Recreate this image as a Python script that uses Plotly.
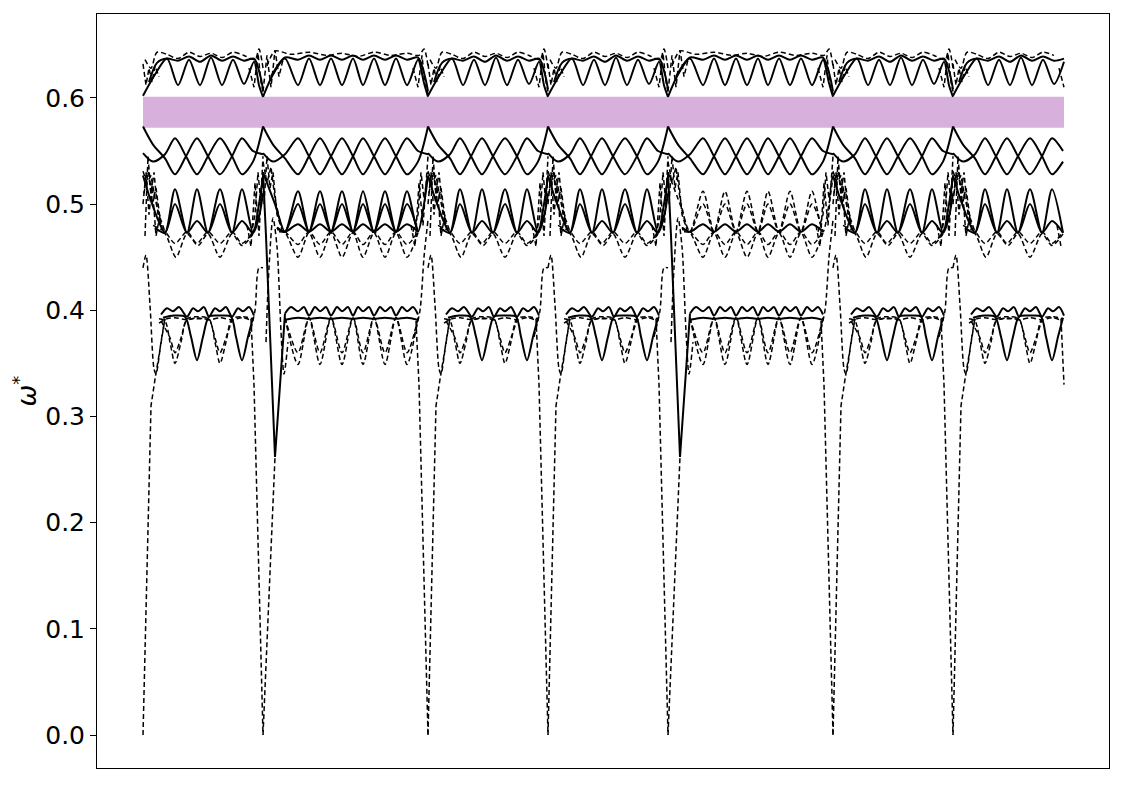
import plotly.graph_objects as go

# ---------------- data ----------------
# k-path: 7 segments, two kinds (short S = 120 units, long L = 165 units)
SEG_KIND = ["S", "L", "S", "S", "L2", "S", "S"]
SEG_LEN = {"S": 120, "L": 165, "L2": 165}
PATH_END = 921

GAP_LO, GAP_HI = 0.572, 0.601
Y_TICKS = [0.0, 0.1, 0.2, 0.3, 0.4, 0.5, 0.6]

# ---- short segment branches (q, omega*) ----
S_A_OSC = [(0,0.602),(12,0.622),(24,0.637),(35,0.612),(46,0.636),(57,0.612),(68,0.638),(79,0.612),(90,0.636),(101,0.613),(111,0.634),(116,0.612),(120,0.601)]
S_A_FLAT = [(6,0.615),(14,0.633),(24,0.637),(35,0.635),(46,0.639),(57,0.634),(68,0.640),(79,0.635),(90,0.639),(101,0.635),(111,0.637),(117,0.622),(120,0.608)]
S_A_DASH = [(2,0.636),(8,0.628),(14,0.643),(24,0.641),(35,0.637),(46,0.643),(57,0.639),(68,0.642),(79,0.638),(90,0.643),(101,0.640),(112,0.636),(116,0.646),(120,0.628)]
S_A_MESS1 = [(0,0.632),(3,0.612),(6,0.628),(9,0.615),(12,0.630),(16,0.620)]
S_A_MESS2 = [(106,0.628),(111,0.610),(115,0.642),(118,0.615),(120,0.606)]
S_B1 = [(0,0.573),(10,0.556),(22,0.543),(32,0.528),(43,0.545),(54,0.562),(65,0.545),(77,0.528),(89,0.545),(99,0.562),(110,0.550),(120,0.547)]
S_B2 = [(0,0.548),(10,0.540),(22,0.547),(32,0.562),(43,0.545),(54,0.528),(65,0.545),(77,0.562),(89,0.545),(99,0.528),(110,0.540),(120,0.573)]
S_C_TALL = [(0,0.527),(8,0.503),(22,0.473),(32,0.514),(44,0.473),(54,0.514),(65,0.473),(77,0.514),(89,0.473),(99,0.514),(110,0.473),(116,0.500),(120,0.526)]
S_C_IN = [(12,0.478),(22,0.473),(32,0.500),(44,0.473),(54,0.484),(65,0.473),(77,0.500),(89,0.473),(99,0.484),(110,0.473),(116,0.488),(120,0.510)]
S_C_D1 = [(10,0.480),(22,0.474),(32,0.463),(44,0.474),(54,0.463),(65,0.474),(77,0.463),(89,0.474),(99,0.463),(110,0.474),(116,0.490)]
S_C_D2 = [(12,0.476),(22,0.472),(33,0.450),(44,0.472),(55,0.461),(65,0.472),(77,0.450),(89,0.472),(99,0.461),(110,0.472)]
S_C_MESS1 = [(0,0.531),(4,0.520),(8,0.527),(12,0.505),(16,0.490),(22,0.474)]
S_C_MESS2 = [(1,0.510),(5,0.535),(9,0.500),(13,0.515),(18,0.480)]
S_C_MESS3 = [(108,0.470),(112,0.490),(115,0.530),(118,0.500),(120,0.530)]
S_C_MESS4 = [(0,0.500),(3,0.530),(6,0.490),(9,0.520),(13,0.470),(17,0.490)]
S_C_MESS5 = [(2,0.470),(5,0.545),(8,0.510),(11,0.530),(15,0.490),(20,0.475)]
S_C_MESS6 = [(104,0.480),(108,0.460),(112,0.520),(116,0.470),(120,0.545)]
S_D_TOP = [(18,0.396),(24,0.402),(30,0.399),(36,0.403),(44,0.394),(50,0.402),(55,0.399),(61,0.403),(66,0.394),(72,0.402),(77,0.399),(83,0.403),(89,0.394),(95,0.402),(100,0.399),(106,0.403),(111,0.395)]
S_D_MID = [(16,0.388),(24,0.392),(32,0.393),(44,0.391),(54,0.393),(66,0.391),(77,0.393),(89,0.391),(99,0.393),(110,0.390)]
S_D_SOL = [(20,0.393),(31,0.395),(42,0.394),(48,0.375),(54,0.353),(60,0.375),(66,0.394),(77,0.395),(88,0.394),(93,0.375),(99,0.353),(105,0.375),(110,0.393)]
S_D_DSH1 = [(16,0.392),(22,0.390),(27,0.370),(32,0.350),(38,0.370),(44,0.392),(55,0.394),(66,0.392),(72,0.370),(77,0.350),(83,0.370),(89,0.392),(100,0.394),(110,0.392)]
S_D_DSH2 = [(18,0.390),(27,0.374),(32,0.360),(38,0.374),(44,0.391),(55,0.392),(66,0.391),(72,0.374),(77,0.360),(83,0.374),(89,0.391)]
S_ACOUSTIC_IN = [(0,0.0),(4,0.15),(8,0.31),(12,0.335),(17,0.365),(22,0.392)]
S_LOW_IN = [(0,0.440),(3,0.452),(7,0.405),(11,0.345),(13,0.340),(18,0.370),(22,0.393)]
S_ACOUSTIC_OUT = [(108,0.392),(111,0.330),(120,0.0)]
S_LOW_OUT = [(106,0.375),(112,0.400),(116,0.440),(120,0.440)]

# ---- long segment branches ----
L_A_OSC = [(0,0.601),(10,0.622),(22,0.637),(35,0.612),(46,0.637),(57,0.612),(68,0.637),(79,0.612),(90,0.637),(100,0.612),(111,0.637),(122,0.612),(133,0.637),(144,0.612),(155,0.636),(161,0.614),(165,0.601)]
L_A_FLAT = [(8,0.620),(22,0.638),(35,0.636),(46,0.640),(57,0.636),(68,0.640),(79,0.636),(90,0.640),(100,0.636),(111,0.640),(122,0.636),(133,0.640),(144,0.636),(155,0.638),(162,0.620),(165,0.606)]
L_A_DASH = [(4,0.630),(12,0.644),(28,0.641),(46,0.643),(64,0.640),(79,0.642),(95,0.639),(111,0.643),(128,0.640),(144,0.642),(156,0.640),(161,0.646),(165,0.630)]
L_A_MESS1 = [(0,0.606),(4,0.640),(8,0.610),(12,0.645),(16,0.620),(20,0.636)]
L_A_MESS2 = [(150,0.628),(155,0.610),(159,0.640),(162,0.612),(165,0.604)]
L_B1 = [(0,0.573),(10,0.556),(22,0.543),(35,0.528),(46,0.545),(57,0.562),(68,0.545),(79,0.528),(90,0.545),(100,0.562),(111,0.545),(122,0.528),(133,0.545),(144,0.562),(155,0.550),(165,0.547)]
L_B2 = [(0,0.548),(10,0.540),(22,0.547),(35,0.562),(46,0.545),(57,0.528),(68,0.545),(79,0.562),(90,0.545),(100,0.528),(111,0.545),(122,0.562),(133,0.545),(144,0.528),(155,0.540),(165,0.573)]
L_C_TALL = [(0,0.530),(12,0.500),(22,0.474),(35,0.512),(46,0.474),(57,0.512),(68,0.474),(79,0.512),(90,0.474),(100,0.512),(111,0.474),(122,0.512),(133,0.474),(144,0.512),(155,0.474),(161,0.500),(165,0.526)]
L_C_IN = [(14,0.478),(22,0.474),(35,0.500),(46,0.474),(57,0.500),(68,0.474),(79,0.500),(90,0.474),(100,0.500),(111,0.474),(122,0.500),(133,0.474),(144,0.500),(155,0.474)]
L_C_LOW = [(14,0.478),(22,0.474),(35,0.481),(46,0.474),(57,0.481),(68,0.474),(79,0.481),(90,0.474),(100,0.481),(111,0.474),(122,0.481),(133,0.474),(144,0.481),(155,0.474)]
L_C_D1 = [(14,0.476),(22,0.474),(35,0.462),(46,0.474),(57,0.462),(68,0.474),(79,0.462),(90,0.474),(100,0.462),(111,0.474),(122,0.462),(133,0.474),(144,0.462),(155,0.474)]
L_C_D2 = [(16,0.474),(22,0.473),(35,0.450),(46,0.473),(57,0.450),(68,0.473),(79,0.450),(90,0.473),(100,0.450),(111,0.473),(122,0.450),(133,0.473),(144,0.450),(155,0.473)]
L_C_MESS1 = [(150,0.474),(155,0.490),(158,0.530),(161,0.505),(165,0.530)]
L_C_MESS2 = [(0,0.540),(4,0.520),(8,0.535),(12,0.505),(18,0.480)]
L_C_MESS3 = [(1,0.500),(4,0.545),(7,0.515),(10,0.530),(14,0.490),(19,0.476)]
L_C_MESS4 = [(148,0.480),(152,0.460),(156,0.520),(160,0.480),(165,0.545)]
L_D_TOP = [(22,0.397),(28,0.403),(35,0.399),(41,0.403),(46,0.395),(52,0.403),(57,0.399),(63,0.403),(68,0.395),(74,0.403),(79,0.399),(85,0.403),(90,0.395),(95,0.403),(100,0.399),(106,0.403),(111,0.395),(117,0.403),(122,0.399),(128,0.403),(133,0.395),(139,0.403),(144,0.399),(150,0.403),(155,0.396)]
L_D_MID = [(22,0.391),(35,0.393),(46,0.392),(57,0.393),(68,0.392),(79,0.393),(90,0.392),(100,0.393),(111,0.392),(122,0.393),(133,0.392),(144,0.393),(155,0.391)]
L_D_DSH1 = [(22,0.393),(35,0.349),(46,0.393),(57,0.349),(68,0.393),(79,0.349),(90,0.393),(100,0.349),(111,0.393),(122,0.349),(133,0.393),(144,0.349),(155,0.393)]
L_D_DSH2 = [(22,0.393),(35,0.360),(46,0.393),(57,0.360),(68,0.393),(79,0.360),(90,0.393),(100,0.360),(111,0.393),(122,0.360),(133,0.393),(144,0.360),(155,0.393)]
L_ACOUSTIC_IN = [(0,0.0),(12,0.262)]
L_V = [(0,0.530),(3,0.470),(12,0.262),(17,0.330),(22,0.397)]
L_ARCH = [(3,0.370),(6,0.440),(10,0.487),(14,0.460),(18,0.380),(21,0.340),(25,0.370)]
L_ACOUSTIC_OUT = [(153,0.390),(156,0.330),(165,0.0)]
L_LOW_OUT = [(151,0.375),(157,0.400),(161,0.450),(165,0.485)]

# ---------------- assembly ----------------
SOLID, DASH = "solid", "dash"
branches = {
    "S": [(S_A_OSC, SOLID, "spline"), (S_A_FLAT, SOLID, "spline"), (S_A_DASH, DASH, "spline"),
          (S_A_MESS1, DASH, "linear"), (S_A_MESS2, DASH, "linear"),
          (S_B1, SOLID, "spline"), (S_B2, SOLID, "spline"),
          (S_C_TALL, SOLID, "spline"), (S_C_IN, SOLID, "spline"), (S_C_D1, DASH, "spline"), (S_C_D2, DASH, "spline"),
          (S_C_MESS1, DASH, "linear"), (S_C_MESS2, DASH, "linear"), (S_C_MESS3, DASH, "linear"),
          (S_C_MESS4, DASH, "linear"), (S_C_MESS5, DASH, "linear"), (S_C_MESS6, DASH, "linear"),
          (S_D_TOP, SOLID, "spline"), (S_D_MID, DASH, "spline"), (S_D_SOL, SOLID, "spline"),
          (S_D_DSH1, DASH, "spline"), (S_D_DSH2, DASH, "spline"),
          (S_ACOUSTIC_IN, DASH, "linear"), (S_LOW_IN, DASH, "spline"),
          (S_ACOUSTIC_OUT, DASH, "linear"), (S_LOW_OUT, DASH, "spline")],
}
long_common = [(L_A_OSC, SOLID, "spline"), (L_A_FLAT, SOLID, "spline"), (L_A_DASH, DASH, "spline"),
               (L_A_MESS1, DASH, "linear"), (L_A_MESS2, DASH, "linear"),
               (L_B1, SOLID, "spline"), (L_B2, SOLID, "spline"),
               (L_C_LOW, SOLID, "spline"), (L_C_D1, DASH, "spline"), (L_C_D2, DASH, "spline"),
               (L_C_MESS1, DASH, "linear"), (L_C_MESS2, DASH, "linear"),
               (L_C_MESS3, DASH, "linear"), (L_C_MESS4, DASH, "linear"),
               (L_D_TOP, SOLID, "spline"), (L_D_MID, SOLID, "spline"),
               (L_D_DSH1, DASH, "spline"), (L_D_DSH2, DASH, "spline"),
               (L_ACOUSTIC_IN, DASH, "linear"), (L_V, SOLID, "linear"), (L_ARCH, DASH, "spline"),
               (L_ACOUSTIC_OUT, DASH, "linear"), (L_LOW_OUT, DASH, "spline")]
branches["L"] = long_common + [(L_C_TALL, SOLID, "spline"), (L_C_IN, SOLID, "spline")]
branches["L2"] = long_common + [(L_C_TALL, DASH, "spline"), (L_C_IN, DASH, "spline")]

groups = {}
start = 0
for kind in SEG_KIND:
    for pts, dash, shape in branches[kind]:
        xs = [start + q for q, v in pts if start + q <= PATH_END]
        ys = [v for q, v in pts if start + q <= PATH_END]
        if len(xs) < 2:
            continue
        g = groups.setdefault((dash, shape), ([], []))
        g[0].extend(xs + [None])
        g[1].extend(ys + [None])
    start += SEG_LEN[kind]

fig = go.Figure()
fig.add_trace(go.Scatter(x=[0, PATH_END, PATH_END, 0, 0], y=[GAP_LO, GAP_LO, GAP_HI, GAP_HI, GAP_LO],
                         fill="toself", fillcolor="#d8b0dc", line=dict(width=0), mode="lines",
                         hoverinfo="skip", showlegend=False))
for (dash, shape), (xs, ys) in groups.items():
    fig.add_trace(go.Scatter(
        x=xs, y=ys, mode="lines", showlegend=False,
        line=dict(color="black", width=2.0 if dash == SOLID else 1.5,
                  dash="solid" if dash == SOLID else "5px,3px", shape=shape, smoothing=0.8)))

fig.update_layout(
    width=1117, height=777, plot_bgcolor="white", paper_bgcolor="white",
    margin=dict(l=89, r=16, t=6, b=17),
    font=dict(family="DejaVu Sans", color="black", size=25),
)
fig.update_xaxes(range=[-46, 966], showticklabels=False, ticks="", showgrid=False, zeroline=False,
                 showline=True, linecolor="black", linewidth=1, mirror=True)
fig.update_yaxes(range=[-0.031, 0.679], tickvals=Y_TICKS, ticktext=[f"{t:.1f}" for t in Y_TICKS],
                 ticks="outside", ticklen=6, tickwidth=1, tickcolor="black", showgrid=False, zeroline=False,
                 showline=True, linecolor="black", linewidth=1, mirror=True,
                 tickfont=dict(size=25),
                 title=dict(text="<i>ω</i><sup>*</sup>", font=dict(size=26), standoff=8))
fig.write_html("out.html")
